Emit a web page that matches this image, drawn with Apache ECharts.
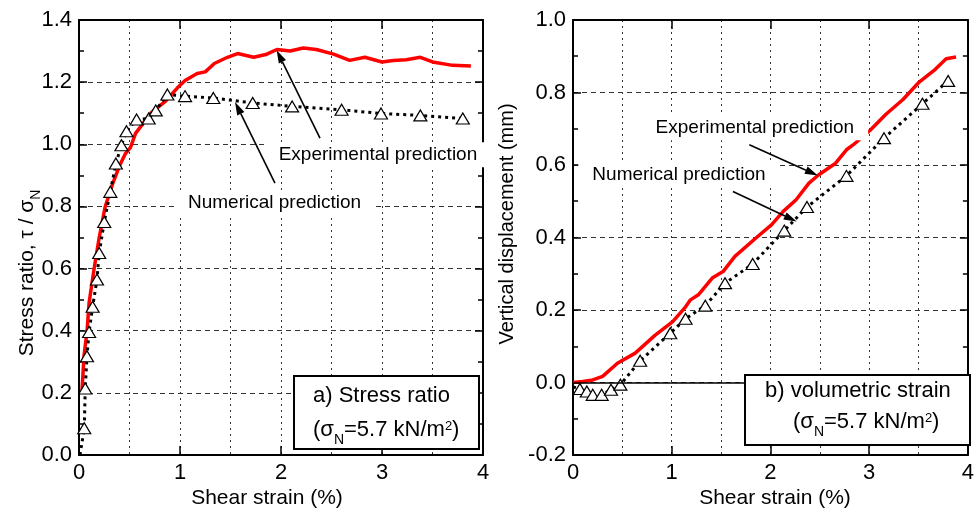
<!DOCTYPE html>
<html><head><meta charset="utf-8">
<script src="https://cdn.jsdelivr.net/npm/echarts/dist/echarts.min.js"></script>
<style>html,body{margin:0;padding:0;background:#fff}#c{width:977px;height:514px}</style>
</head><body><div id="c"></div>
<script>
// ---- Data (a) Stress ratio ----
const expStrainL = [0.03,0.05,0.08,0.10,0.15,0.20,0.26,0.33,0.40,0.46,0.51,0.56,0.71,0.86,0.97,1.05,1.17,1.25,1.34,1.47,1.57,1.73,1.86,1.96,2.09,2.22,2.35,2.52,2.68,2.83,3.00,3.11,3.24,3.38,3.50,3.70,3.88];
const expRatioL  = [0.21,0.32,0.40,0.49,0.60,0.70,0.80,0.87,0.93,0.97,0.99,1.035,1.10,1.14,1.18,1.205,1.228,1.233,1.26,1.28,1.292,1.28,1.29,1.305,1.30,1.31,1.305,1.29,1.27,1.28,1.265,1.27,1.272,1.28,1.265,1.254,1.252];
const numStartL = [0.01, 0.0];
const numStrainL = [0.052,0.062,0.079,0.10,0.135,0.178,0.20,0.25,0.31,0.365,0.42,0.47,0.57,0.69,0.76,0.875,1.05,1.33,1.72,2.11,2.60,2.99,3.38,3.80];
const numRatioL  = [0.086,0.214,0.318,0.396,0.477,0.565,0.65,0.75,0.847,0.938,0.997,1.042,1.08,1.083,1.109,1.16,1.155,1.149,1.133,1.122,1.111,1.099,1.093,1.083];
// ---- Data (b) volumetric strain ----
const expStrainR = [0,0.10,0.20,0.30,0.45,0.63,0.83,1.01,1.13,1.19,1.27,1.41,1.52,1.64,1.85,2.01,2.13,2.26,2.39,2.49,2.66,2.77,2.84,3.01,3.17,3.34,3.50,3.67,3.78,3.88];
const expDispR   = [0.0,0.003,0.007,0.017,0.053,0.081,0.13,0.168,0.205,0.228,0.242,0.288,0.306,0.348,0.398,0.435,0.472,0.504,0.55,0.573,0.605,0.642,0.656,0.696,0.74,0.78,0.827,0.864,0.893,0.898];
const numStartR = [0.0, -0.012];
const numStrainR = [0.07,0.14,0.20,0.29,0.385,0.48,0.68,0.985,1.14,1.34,1.54,1.82,2.14,2.37,2.77,3.15,3.54,3.80];
const numDispR   = [-0.018,-0.025,-0.034,-0.034,-0.02,-0.006,0.06,0.136,0.176,0.212,0.274,0.327,0.419,0.484,0.57,0.674,0.769,0.832];
// ---- Ticks / labels ----
const xTicks = {min:0, max:4, interval:1};
const yTicksL = {min:0, max:1.4, interval:0.2};
const yTicksR = {min:-0.2, max:1.0, interval:0.2};
const xTitle = 'Shear strain (%)';
const yTitleR = 'Vertical displacement (mm)';
// annotations [text, textAt(x,y), arrowFrom(x,y), arrowTo(x,y)]
const annL = [
  ['Experimental prediction', [2.96,0.966], [2.386,1.020], [1.957,1.303]],
  ['Numerical prediction', [1.936,0.811], [1.94,0.875], [1.545,1.136]]
];
const annR = [
  ['Experimental prediction', [1.842,0.703], [1.786,0.656], [2.48,0.571]],
  ['Numerical prediction', [1.073,0.573], [1.62,0.527], [2.266,0.444]]
];

const FONT = '"Liberation Sans", Arial, sans-serif';
const pairs = (xs, ys) => xs.map((x,i)=>[x, ys[i]]);

function xAxes(g){
  return [{
    type:'value', gridIndex:g, min:xTicks.min, max:xTicks.max, interval:xTicks.interval, position:'bottom',
    axisLine:{onZero:false, lineStyle:{color:'#000', width:2}},
    axisTick:{inside:true, length:9, lineStyle:{color:'#000', width:1.5}},
    minorTick:{show:false, splitNumber:2},
    axisLabel:{fontFamily:FONT, fontSize:22, color:'#000', margin:7},
    splitLine:{show:true, lineStyle:{type:[2,4], color:'#333', width:1}},
    minorSplitLine:{show:true, lineStyle:{type:[2,4], color:'#333', width:1}}
  },{
    type:'value', gridIndex:g, min:xTicks.min, max:xTicks.max, interval:xTicks.interval, position:'top',
    axisLine:{onZero:false, lineStyle:{color:'#000', width:2}},
    axisTick:{inside:true, length:9, lineStyle:{color:'#000', width:1.5}},
    axisLabel:{show:false}, splitLine:{show:false}
  }];
}
function yAxes(g, t){
  return [{
    type:'value', gridIndex:g, min:t.min, max:t.max, interval:t.interval, position:'left',
    axisLine:{onZero:false, lineStyle:{color:'#000', width:2}},
    axisTick:{inside:true, length:8, lineStyle:{color:'#000', width:1.5}},
    minorTick:{show:true, splitNumber:2, length:5, lineStyle:{color:'#000', width:1.5}},
    axisLabel:{fontFamily:FONT, fontSize:22, color:'#000', margin:7, formatter:v=>v.toFixed(1)},
    splitLine:{show:true, lineStyle:{type:[5,4], color:'#333', width:1}}
  },{
    type:'value', gridIndex:g, min:t.min, max:t.max, interval:t.interval, position:'right',
    axisLine:{onZero:false, lineStyle:{color:'#000', width:2}},
    axisTick:{inside:true, length:8, lineStyle:{color:'#000', width:1.5}},
    minorTick:{show:true, splitNumber:2, length:5, lineStyle:{color:'#000', width:1.5}},
    axisLabel:{show:false}, splitLine:{show:false}
  }];
}
const triangle = {symbol:'triangle', symbolSize:[13,11], itemStyle:{color:'#fff', borderColor:'#000', borderWidth:1.2}};
function numSeries(xi, yi, start, xs, ys){
  const data = [{value:start, symbol:'none'}].concat(pairs(xs, ys));
  return Object.assign({type:'line', xAxisIndex:xi, yAxisIndex:yi, data,
    lineStyle:{color:'#000', width:3, type:[3,4]}, showSymbol:true, z:4, animation:false}, triangle);
}
function expSeries(xi, yi, xs, ys){
  return {type:'line', xAxisIndex:xi, yAxisIndex:yi, data:pairs(xs, ys), symbol:'none',
    lineStyle:{color:'#ff0000', width:3.5}, z:3, animation:false};
}

const chart = echarts.init(document.getElementById('c'), null, {renderer:'canvas'});
chart.setOption({
  backgroundColor:'#fff',
  animation:false,
  grid:[{left:79, top:20, width:404, height:435}, {left:573, top:20, width:403, height:435}],
  xAxis: xAxes(0).concat(xAxes(1)),
  yAxis: yAxes(0, yTicksL).concat(yAxes(1, yTicksR)),
  series:[
    expSeries(0, 0, expStrainL, expRatioL),
    numSeries(0, 0, numStartL, numStrainL, numRatioL),
    Object.assign(expSeries(2, 2, expStrainR, expDispR), {
      markLine:{silent:true, symbol:'none', label:{show:false}, animation:false,
        lineStyle:{color:'#000', width:1.5, type:'solid'}, data:[{yAxis:0}]}
    }),
    numSeries(2, 2, numStartR, numStrainR, numDispR)
  ]
});

const rich = {
  m:{fontFamily:FONT, fontSize:22, color:'#000', verticalAlign:'top', lineHeight:24},
  sub:{fontFamily:FONT, fontSize:14, color:'#000', verticalAlign:'top', lineHeight:14, padding:[14,0,0,0]},
  sup:{fontFamily:FONT, fontSize:13, color:'#000', verticalAlign:'top', lineHeight:13, padding:[1,0,0,0]}
};
const graphics = [];
function ann(list, g){
  list.forEach(([txt, at, from, to])=>{
    const p = chart.convertToPixel({gridIndex:g}, at);
    graphics.push({type:'text', x:p[0], y:p[1], z:50,
      style:{text:txt, font:'19px '+FONT, fill:'#000', align:'center', verticalAlign:'middle',
        backgroundColor:'#fff', padding:[3,14]}});
    const a = chart.convertToPixel({gridIndex:g}, from);
    const b = chart.convertToPixel({gridIndex:g}, to);
    const dx=b[0]-a[0], dy=b[1]-a[1], L=Math.hypot(dx,dy), ux=dx/L, uy=dy/L;
    const hl=13, hw=4;
    const bx=b[0]-ux*hl, by=b[1]-uy*hl;
    graphics.push({type:'line', z:60, shape:{x1:a[0], y1:a[1], x2:bx, y2:by}, style:{stroke:'#000', lineWidth:1.6}});
    graphics.push({type:'polygon', z:60, shape:{points:[[b[0],b[1]],[bx-uy*hw, by+ux*hw],[bx+uy*hw, by-ux*hw]]}, style:{fill:'#000'}});
  });
}
ann(annL, 0);
ann(annR, 1);
// legend-like boxes
graphics.push({type:'rect', z:50, shape:{x:294, y:376, width:185, height:73}, style:{fill:'#fff', stroke:'#000', lineWidth:2}});
graphics.push({type:'text', z:51, x:313, y:385, style:{text:'{m|a) Stress ratio}', rich, align:'left', verticalAlign:'top'}});
graphics.push({type:'text', z:51, x:313, y:419, style:{text:'{m|(σ}{sub|N}{m|=5.7 kN/m}{sup|2}{m|)}', rich, align:'left', verticalAlign:'top'}});
graphics.push({type:'rect', z:50, shape:{x:745, y:375, width:225, height:70}, style:{fill:'#fff', stroke:'#000', lineWidth:2}});
graphics.push({type:'text', z:51, x:765, y:380, style:{text:'{m|b) volumetric strain}', rich, align:'left', verticalAlign:'top'}});
graphics.push({type:'text', z:51, x:793, y:411, style:{text:'{m|(σ}{sub|N}{m|=5.7 kN/m}{sup|2}{m|)}', rich, align:'left', verticalAlign:'top'}});
// axis titles
graphics.push({type:'text', z:51, x:267, y:498, style:{text:xTitle, font:'21px '+FONT, fill:'#000', align:'center', verticalAlign:'middle'}});
graphics.push({type:'text', z:51, x:775, y:498, style:{text:xTitle, font:'21px '+FONT, fill:'#000', align:'center', verticalAlign:'middle'}});
graphics.push({type:'text', z:51, x:28, y:273, rotation:Math.PI/2,
  style:{text:'{y|Stress ratio, τ / σ}{ys|N}', align:'center', verticalAlign:'middle',
    rich:{y:{fontFamily:FONT, fontSize:21, color:'#000', verticalAlign:'top', lineHeight:23},
          ys:{fontFamily:FONT, fontSize:14, color:'#000', verticalAlign:'top', lineHeight:14, padding:[13,0,0,0]}}}});
graphics.push({type:'text', z:51, x:507, y:224, rotation:Math.PI/2,
  style:{text:yTitleR, font:'20px '+FONT, fill:'#000', align:'center', verticalAlign:'middle'}});
chart.setOption({graphic:graphics});
</script></body></html>
